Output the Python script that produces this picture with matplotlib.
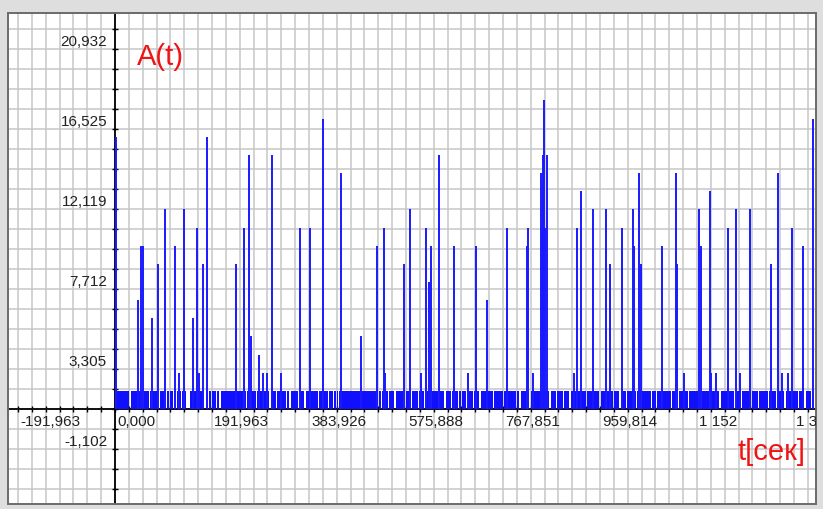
import numpy as np
import matplotlib.pyplot as plt
from matplotlib.patches import Rectangle
from matplotlib.transforms import offset_copy

plt.rcParams['font.family'] = ['Liberation Sans Narrow', 'Liberation Sans', 'DejaVu Sans']

# импульсы: время [сек] и амплитуда
spike_t = [2.0, 44.9, 51.5, 56.0, 73.2, 85.7, 98.4, 119.3, 127.3, 137.1,
           154.4, 162.9, 166.2, 174.7, 182.1, 239.5, 255.3, 264.6, 269.1, 285.6,
           292.9, 300.8, 310.7, 329.1, 366.7, 386.5, 412.2, 446.7, 486.8, 517.9,
           531.8, 534.9, 572.5, 584.4, 605.0, 614.9, 622.0, 625.4, 641.2, 670.9,
           699.2, 713.8, 735.6, 775.8, 814.8, 816.8, 827.8, 842.5, 844.5, 846.4,
           847.6, 849.0, 851.6, 854.3, 908.4, 915.0, 922.2, 946.6, 971.7, 979.0,
           1004.0, 1025.1, 1027.8, 1037.6, 1041.0, 1082.0, 1110.2, 1111.6, 1126.1, 1155.7,
           1159.1, 1176.9, 1179.5, 1189.4, 1212.5, 1229.0, 1237.5, 1256.7, 1297.7, 1312.7,
           1320.0, 1331.3, 1339.2, 1361.6, 1382.0]
spike_a = [15, 6, 9, 9, 5, 8, 11, 9, 2, 11,
           5, 10, 2, 8, 15, 8, 10, 14, 4, 3,
           2, 2, 14, 2, 10, 10, 16, 13, 4, 9,
           10, 2, 8, 11, 2, 10, 7, 9, 14, 9,
           2, 9, 6, 10, 9, 10, 2, 13, 10, 14,
           12, 17, 10, 14, 2, 10, 12, 11, 11, 8,
           10, 11, 9, 13, 8, 9, 13, 8, 2, 11,
           9, 12, 2, 2, 10, 11, 2, 11, 8, 13,
           2, 2, 10, 9, 16]

# фоновый уровень 1 с короткими провалами до 0
base_a = 1
base_end = 1384.0
gap_t = [29.7, 56.0, 67.9, 72.6, 87.7, 102.3, 107.5, 115.4, 122.1, 125.3,
         132.0, 136.6, 142.5, 145.0, 147.5, 162.9, 178.1, 184.6, 191.4, 201.3,
         207.8, 253.9, 260.6, 268.6, 280.4, 293.5, 306.7, 320.0, 339.8, 346.3,
         362.7, 376.0, 402.3, 410.2, 422.1, 432.0, 438.7, 441.9, 521.1, 527.8,
         540.9, 554.1, 570.5, 573.9, 587.2, 600.2, 613.5, 626.7, 639.8, 653.1,
         666.3, 679.4, 686.1, 696.0, 709.1, 722.3, 748.7, 768.4, 795.0, 801.5,
         821.3, 860.9, 874.1, 887.2, 900.4, 913.7, 933.5, 959.8, 973.1, 986.1,
         999.4, 1012.7, 1025.7, 1032.4, 1042.3, 1062.1, 1072.0, 1081.9, 1101.7, 1114.8,
         1134.6, 1161.1, 1177.5, 1197.3, 1213.7, 1227.0, 1240.2, 1260.0, 1273.1, 1292.9,
         1309.5, 1325.9, 1339.2, 1352.3, 1365.5, 1378.8]
gap_w = 2.2

x_step = 191.963 / 7
y_step = 20.932 / 19
x_tick_val = [-191.963, 0.0, 191.963, 383.926, 575.888, 767.851, 959.814, 1151.777, 1343.74]
x_tick_lab = ['-191,963', '0,000', '191,963', '383,926', '575,888', '767,851', '959,814', '1 152', '1 3']
y_tick_val = [20.932, 16.525, 12.119, 7.712, 3.305, -1.102]
y_tick_lab = ['20,932', '16,525', '12,119', '7,712', '3,305', '-1,102']

fig = plt.figure(figsize=(8.31, 5.18), dpi=100)
fig.patches.append(Rectangle((0, 9 / 518), 823 / 831, 1 - 9 / 518, transform=fig.transFigure,
                             facecolor='#dedede', edgecolor='none', zorder=-10))
ax = fig.add_axes([8 / 831, 14 / 518, 808 / 831, 491 / 518])
ax.set_facecolor('white')
ax.set_xlim(-211.8, 1387.3)
ax.set_ylim(-5.23, 21.82)

# сетка
ax.set_xticks(np.arange(-7, 51) * x_step)
ax.set_yticks(np.arange(-4, 20) * y_step)
ax.grid(True, color='#c6c6c6', lw=1.1)
ax.set_axisbelow(True)
ax.tick_params(labelbottom=False, labelleft=False, direction='inout', length=5,
               width=1, color='black')

for s in ['left', 'bottom']:
    ax.spines[s].set_position(('data', 0))
    ax.spines[s].set_color('black')
    ax.spines[s].set_linewidth(1.3)
for s in ['top', 'right']:
    ax.spines[s].set_visible(False)
ax.add_patch(Rectangle((0, 0), 1, 1, transform=ax.transAxes, fill=False,
                       edgecolor='#6a6a6a', lw=1.4, clip_on=False, zorder=6))

# фон
segs = []
start = 0.0
for g in gap_t:
    segs.append((start, g - gap_w / 2 - start))
    start = g + gap_w / 2
segs.append((start, base_end - start))
ax.broken_barh(segs, (0, base_a), facecolors='#1010ff', edgecolor='none', zorder=3)

ax.vlines(spike_t, 0, spike_a, colors='#1a1aff', lw=1.4, zorder=4)

tx = offset_copy(ax.transData, fig=fig, x=2, y=-6, units='dots')
for v, lab in zip(x_tick_val, x_tick_lab):
    ax.text(v, 0, lab, transform=tx, ha='left', va='top', fontsize=11,
            color='#222222', clip_on=True, zorder=7)
ty = offset_copy(ax.transData, fig=fig, x=-8, y=-6, units='dots')
for v, lab in zip(y_tick_val, y_tick_lab):
    ax.text(0, v, lab, transform=ty, ha='right', va='top', fontsize=11,
            color='#222222', zorder=7)

fig.text(137 / 831, 1 - 57 / 518, 'A(t)', ha='left', va='center', fontsize=21, color='#f01414')
fig.text(805 / 831, 1 - 452 / 518, 't[сек]', ha='right', va='center', fontsize=21, color='#f01414')

fig.savefig('out.png', dpi=100, facecolor='white')
